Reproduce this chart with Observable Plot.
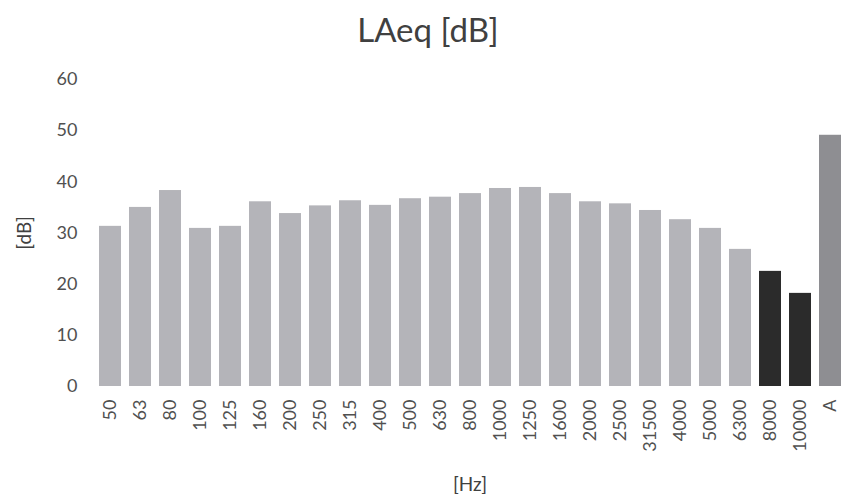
<!DOCTYPE html>
<html>
<head>
<meta charset="utf-8">
<script src="https://cdn.jsdelivr.net/npm/d3@7"></script>
<script src="https://cdn.jsdelivr.net/npm/@observablehq/plot@0.6"></script>
<style>
  html, body { margin: 0; padding: 0; background: #fff; overflow: hidden; }
  #wrap { position: relative; width: 842px; height: 494px; overflow: hidden; font-family: Lato, "Open Sans", sans-serif; }
  #title { position: absolute; left: 0; width: 856px; top: 9px; text-align: center; font-size: 33px; color: #404040; }
  #ylab { position: absolute; left: 23px; top: 233px; transform: translate(-50%, -50%) rotate(-90deg); font-size: 19px; color: #404040; white-space: nowrap; }
  #xlab { position: absolute; left: 470px; top: 483px; transform: translate(-50%, -50%); font-size: 19px; color: #404040; white-space: nowrap; }
  #chart { position: absolute; left: 0; top: 60px; }
  #chart svg { overflow: hidden; }
</style>
</head>
<body>
<div id="wrap">
  <div id="title">LAeq [dB]</div>
  <div id="ylab">[dB]</div>
  <div id="xlab">[Hz]</div>
  <div id="chart"></div>
</div>
<script>
const bands = ["50","63","80","100","125","160","200","250","315","400","500","630","800","1000","1250","1600","2000","2500","31500","4000","5000","6300","8000","10000","A"];
const levels = [31.3,35.0,38.3,30.9,31.3,36.1,33.8,35.3,36.3,35.4,36.7,37.0,37.7,38.7,38.9,37.7,36.1,35.7,34.4,32.6,30.9,26.8,22.5,18.2,49.1];
const yTicks = [0,10,20,30,40,50,60];
const darkBands = ["8000","10000"];
const totalBand = "A";

const data = bands.map((b, i) => ({band: b, level: levels[i]}));

const chart = Plot.plot({
  width: 842,
  height: 434,
  marginTop: 19,
  marginBottom: 108,
  marginLeft: 88,
  marginRight: 0,
  style: {fontFamily: "Lato, 'Open Sans', sans-serif", fontSize: "18px", color: "#505050", background: "transparent", overflow: "hidden"},
  x: {domain: bands, range: [89.5, 849.5], paddingInner: 0.28, paddingOuter: 0.14, label: null},
  y: {domain: [0, 60], ticks: yTicks, label: null},
  marks: [
    Plot.barY(data, {
      x: "band",
      y: "level",
      fill: d => d.band === totalBand ? "#8e8e92" : (darkBands.includes(d.band) ? "#2b2b2b" : "#b4b4b9")
    }),
    Plot.axisX({tickRotate: -90, tickSize: 0, tickPadding: 13, fontSize: 18, label: null}),
    Plot.axisY({ticks: yTicks, tickSize: 0, tickPadding: 11, fontSize: 18, label: null})
  ]
});
document.getElementById("chart").appendChild(chart);
</script>
</body>
</html>
